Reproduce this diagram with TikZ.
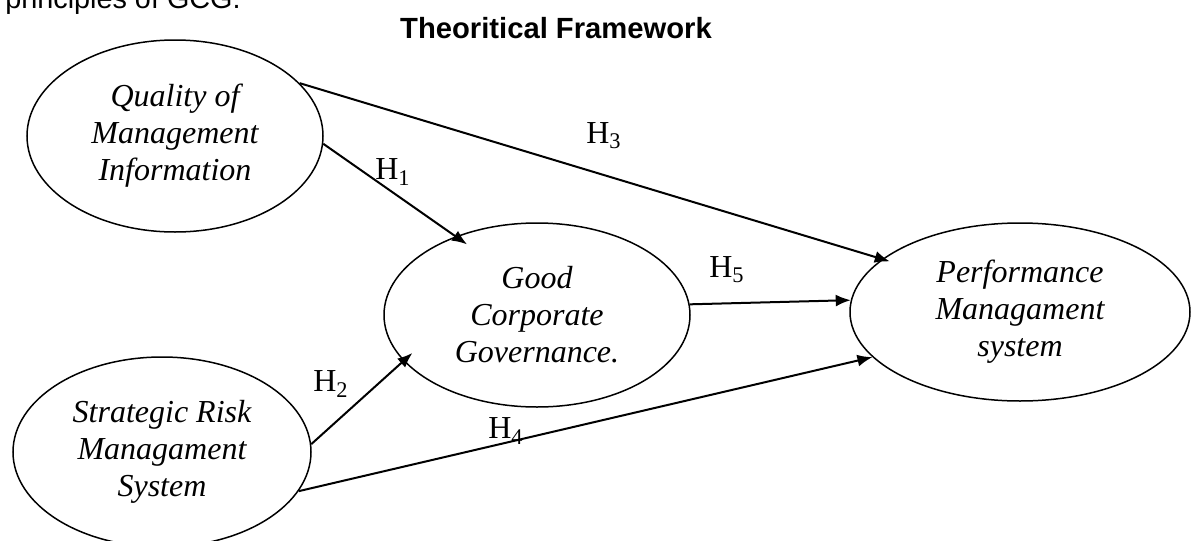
\documentclass[tikz,border=0pt]{standalone}
\usepackage{fontspec}
\setmainfont{Liberation Serif}
\setsansfont{Liberation Sans}
\usetikzlibrary{shapes.geometric,arrows.meta}
\tikzset{
  construct/.style={draw, ellipse, line width=0.75pt, inner sep=0pt, align=center,
    font=\fontsize{16}{18.5}\selectfont\itshape},
  hyp/.style={line width=1pt, -{Latex[length=7.5pt,width=6pt]}},
  hlabel/.style={inner sep=0pt, font=\fontsize{16}{18.5}\selectfont}
}
\begin{document}
\begin{tikzpicture}[x=0.5pt,y=-0.5pt]
		\useasboundingbox (0,0) rectangle (1191,541);
		\node[anchor=base west, inner sep=0pt] (intro) at (5,8) {\sffamily\fontsize{14.4}{16}\selectfont principles of GCG.};
		\node[anchor=base, inner sep=0pt] (title) at (556,38) {\sffamily\bfseries\fontsize{14.6}{16}\selectfont Theoritical Framework};
		% constructs
		\node[construct, minimum width=148pt, minimum height=96pt] (qmi) at (175,136) {Quality of\\Management\\Information};
		\node[construct, minimum width=149pt, minimum height=95pt] (srm) at (162,452) {Strategic Risk\\Managament\\System};
		\node[construct, minimum width=153pt, minimum height=92pt] (gcg) at (537,315) {Good\\Corporate\\Governance.};
		\node[construct, minimum width=170pt, minimum height=89pt] (pms) at (1020,312) {Performance\\Managament\\system};
		% hypotheses
		\draw[hyp, shorten >=-7pt] (qmi.-3) -- (gcg.136);
		\draw[hyp, shorten >=-6pt] (srm.3) -- (gcg.-161);
		\draw[hyp, shorten >=-4pt] (qmi.23) -- (pms.159);
		\draw[hyp] (srm.-16) -- (pms.-163);
		\draw[hyp] (gcg.4) -- (pms.176);
		\node[hlabel] (h1) at (393,172) {H\textsubscript{1}};
		\node[hlabel] (h2) at (331,384) {H\textsubscript{2}};
		\node[hlabel] (h3) at (604,136) {H\textsubscript{3}};
		\node[hlabel] (h4) at (506,431) {H\textsubscript{4}};
		\node[hlabel] (h5) at (727,270) {H\textsubscript{5}};
\end{tikzpicture}
\end{document}
